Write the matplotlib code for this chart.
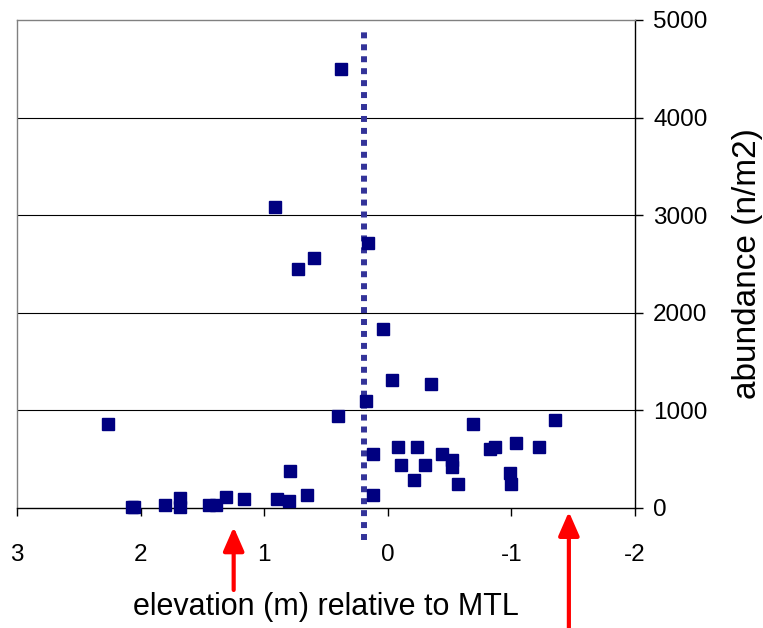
import matplotlib.pyplot as plt
from matplotlib.lines import Line2D

plt.rcParams['font.family'] = ['Liberation Sans', 'DejaVu Sans']

# elevation (m) relative to MTL, abundance (n/m2)
elevation = [2.26, 2.07, 2.05, 1.80, 1.68, 1.68, 1.45, 1.39, 1.31, 1.16,
             0.90, 0.80, 0.79, 0.65, 0.40, 0.18, 0.12, 0.12, 0.914, 0.60,
             0.73, 0.16, 0.04, 0.38, -0.035, -0.35, -0.69, -1.35, -0.08, -0.24,
             -0.11, -0.30, -0.44, -0.52, -0.52, -0.21, -0.57, -0.83, -0.865, -1.035,
             -1.22, -0.99, -1.00]
abundance = [860, 10, 10, 30, 100, 10, 30, 30, 116, 96,
             96, 75, 380, 137, 945, 1100, 552, 137, 3080, 2557,
             2448, 2711, 1836, 4496, 1316, 1274, 860, 904, 620, 620,
             445, 445, 555, 493, 425, 291, 247, 603, 620, 665,
             620, 356, 247]

mtl_line = 0.19          # dotted reference line
arrow_x = [1.247, -1.465]  # red arrows under the axis
xticks = [3, 2, 1, 0, -1, -2]
yticks = [0, 1000, 2000, 3000, 4000, 5000]

fig = plt.figure(figsize=(7.63, 6.28), dpi=100)
ax = fig.add_axes([17 / 763, 1 - 508 / 628, 618 / 763, 488 / 628])

ax.plot(elevation, abundance, 's', color='#000080', ms=8, mec='#000080',
        zorder=3, clip_on=False)

ax.set_xlim(3, -2)
ax.set_ylim(0, 5000)
ax.set_xticks(xticks)
ax.set_xticklabels([str(t) for t in xticks])
ax.set_yticks(yticks)
ax.yaxis.tick_right()
ax.yaxis.set_label_position('right')

for y in yticks[1:-1]:
    ax.axhline(y, color='black', lw=0.8, zorder=1)

ax.spines['top'].set_color('#808080')
ax.spines['left'].set_color('#808080')
ax.spines['right'].set_color('black')
ax.spines['bottom'].set_color('black')
for s in ax.spines.values():
    s.set_linewidth(1.0)

ax.tick_params(axis='x', direction='out', length=6, width=1, pad=20, labelsize=17.5)
ax.tick_params(axis='y', direction='out', length=6, width=1, pad=7, labelsize=17.5)

ax.set_xlabel('elevation (m) relative to MTL', fontsize=22, labelpad=19)
ax.set_ylabel('abundance (n/m2)', fontsize=24, labelpad=18)

# dotted vertical line, running a bit below the axis
ax.add_line(Line2D([mtl_line, mtl_line], [-0.066, 0.977], color='#333399', lw=4.3,
                   linestyle=(0, (1, 1)), transform=ax.get_xaxis_transform(),
                   clip_on=False, zorder=2))

# red arrows
tips = [-0.039, -0.0076]
tails = [-0.168, -0.30]
for x, tip, tail in zip(arrow_x, tips, tails):
    ax.annotate('', xy=(x, tip), xytext=(x, tail),
                xycoords=('data', 'axes fraction'),
                textcoords=('data', 'axes fraction'),
                arrowprops=dict(arrowstyle='-|>,head_length=0.8,head_width=0.35',
                                color='red', lw=3, mutation_scale=18,
                                shrinkA=0, shrinkB=0),
                annotation_clip=False)

fig.savefig('out.png', dpi=100)
